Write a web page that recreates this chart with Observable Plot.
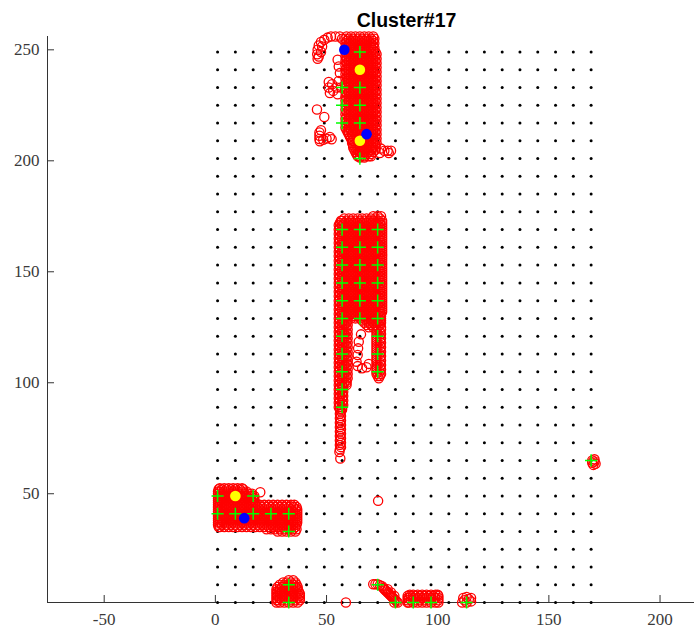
<!DOCTYPE html>
<html>
<head>
<meta charset="utf-8">
<script src="https://cdn.jsdelivr.net/npm/d3@7"></script>
<script src="https://cdn.jsdelivr.net/npm/@observablehq/plot@0.6"></script>
<style>
  html, body { margin: 0; padding: 0; background: #fff; }
  #chart svg { display: block; }
</style>
</head>
<body>
<div id="chart"></div>
<script>
// Axis limits (axis equal) and ticks
const xLim = [-75.5, 215.5];
const yLim = [1, 256];
const xTicks = [-50, 0, 50, 100, 150, 200];
const yTicks = [50, 100, 150, 200, 250];
const title = "Cluster#17";

// Sampling grid (black dots)
const gridX = [1, 9, 17, 25, 33, 41, 49, 57, 65, 73, 81, 89, 97, 105, 113, 121, 129, 137, 145, 153, 161, 169];
const gridY = [1, 9, 17, 25, 33, 41, 49, 57, 65, 73, 81, 89, 97, 105, 113, 121, 129, 137, 145, 153,
               161, 169, 177, 185, 193, 201, 209, 217, 225, 233, 241, 249];

// Cluster member positions, one row per line: "y: x x x ..."
const redRows = `
256: 59 61 63 65 67 69 71
255: 58.5 60 62 64 66 68 70 71.5
254: 59 61 63 65 67 69 71
253: 58.5 60 62 64 66 68 70 71.5
252: 59 61 63 65 67 69 71
251: 58.5 60 62 64 66 68 70 71.5
250: 59 61 63 65 67 69 71
249: 58.5 60 62 64 66 68 70 72
248: 59 61 63 65 67 69 71 72.5
247: 58.5 60 62 64 66 68 70 72
246: 59 61 63 65 67 69 71 72.5
245: 58.5 60 62 64 66 68 70 72
244: 59 61 63 65 67 69 71 72.5
243: 58.5 60 62 64 66 68 70 72
242: 59 61 63 65 67 69 71 72.5
241: 58.5 60 62 64 66 68 70 72
240: 59 61 63 65 67 69 71 72.5
239: 58.5 60 62 64 66 68 70 72
238: 59 61 63 65 67 69 71 72.5
237: 58.5 60 62 64 66 68 70 72
236: 59 61 63 65 67 69 71 72.5
235: 58.5 60 62 64 66 68 70 72
234: 59 61 63 65 67 69 71 72.5
233: 58.5 60 62 64 66 68 70 72
232: 59 61 63 65 67 69 71 72.5
231: 58.5 60 62 64 66 68 70 72
230: 59 61 63 65 67 69 71 72.5
229: 58.5 60 62 64 66 68 70 72
228: 59 61 63 65 67 69 71 72.5
227: 58.5 60 62 64 66 68 70 72
226: 59 61 63 65 67 69 71 72.5
225: 58.5 60 62 64 66 68 70 72
224: 59 61 63 65 67 69 71 72.5
223: 58.5 60 62 64 66 68 70 72
222: 59 61 63 65 67 69 71 72.5
221: 58.5 60 62 64 66 68 70 72
220: 59 61 63 65 67 69 71 72.5
219: 58.5 60 62 64 66 68 70 72
218: 59 61 63 65 67 69 71 72.5
217: 58.5 60 62 64 66 68 70 72
216: 59 61 63 65 67 69 71 72.5
215: 58.5 60 62 64 66 68 70 72
214: 59 61 63 65 67 69 71 72.5
213: 59.5 60 62 64 66 68 70 72
212: 60 61.5 63 65 67 69 71 72.5
211: 60.5 62 64 66 68 70 72
210: 61 63 65 67 69 71 72.5
209: 61.5 62 64 66 68 70 72
208: 61.5 63 65 67 69 71 72.5
207: 62 64 66 68 70 72
206: 62 63 65 67 69 71 72
205: 62.5 64 66 68 70 72
204: 63 65 67 69 71
203: 63.5 64 66 68 70
202: 64 65 67 69 70
201.5: 65 67
175: 71 73 74.5
174: 58 60 62 64 66 68 70 72 74
173: 56.5 57 59 61 63 65 67 69 71 73 75
172: 56 58 60 62 64 66 68 70 72 74 75
171: 55.5 57 59 61 63 65 67 69 71 73 75
170: 56 58 60 62 64 66 68 70 72 74 75
169: 55.5 57 59 61 63 65 67 69 71 73 75
168: 56 58 60 62 64 66 68 70 72 74 75
167: 55.5 57 59 61 63 65 67 69 71 73 75
166: 56 58 60 62 64 66 68 70 72 74 75
165: 55.5 57 59 61 63 65 67 69 71 73 75
164: 56 58 60 62 64 66 68 70 72 74 75
163: 55.5 57 59 61 63 65 67 69 71 73 75
162: 56 58 60 62 64 66 68 70 72 74 75
161: 55.5 57 59 61 63 65 67 69 71 73 75
160: 56 58 60 62 64 66 68 70 72 74 75
159: 55.5 57 59 61 63 65 67 69 71 73 75
158: 56 58 60 62 64 66 68 70 72 74 75
157: 55.5 57 59 61 63 65 67 69 71 73 75
156: 56 58 60 62 64 66 68 70 72 74 75
155: 55.5 57 59 61 63 65 67 69 71 73 75
154: 56 58 60 62 64 66 68 70 72 74 75
153: 55.5 57 59 61 63 65 67 69 71 73 75
152: 56 58 60 62 64 66 68 70 72 74 75
151: 55.5 57 59 61 63 65 67 69 71 73 75
150: 56 58 60 62 64 66 68 70 72 74 75
149: 55.5 57 59 61 63 65 67 69 71 73 75
148: 56 58 60 62 64 66 68 70 72 74 75
147: 55.5 57 59 61 63 65 67 69 71 73 75
146: 56 58 60 62 64 66 68 70 72 74 75
145: 55.5 57 59 61 63 65 67 69 71 73 75
144: 56 58 60 62 64 66 68 70 72 74 75
143: 55.5 57 59 61 63 65 67 69 71 73 75
142: 56 58 60 62 64 66 68 70 72 74 75
141: 55.5 57 59 61 63 65 67 69 71 73 75
140: 56 58 60 62 64 66 68 70 72 74 75
139: 55.5 57 59 61 63 65 67 69 71 73 75
138: 56 58 60 62 64 66 68 70 72 74 75
137: 55.5 57 59 61 63 65 67 69 71 73 75
136: 56 58 60 62 64 66 68 70 72 74 75
135: 55.5 57 59 61 63 65 67 69 71 73 75
134: 56 58 60 62 64 66 68 70 72 74 75
133: 55.5 57 59 61 63 65 67 69 71 73 75
132: 56 58 60 62 64 66 68 70 72 74 75
131: 55.5 57 59 61 63 65 67 69 71 73 74.5
130: 56 58 60 62 64 66 68 70 72 74 74.5
129: 55.5 57 59 61 63 65 67 69 71 73 74.5
128: 56 58 59.5 66 68 70 72 74 74.5
127: 55.5 57 59 67 69 71 73 74.5
126: 56 58 59.5 68 70 72 74
125: 55.5 57 59 69 71 73 74.5
124: 56 58 59.5 72.5 74.5
123: 55.5 57 59 72.5 74
122: 56 58 59.5 72.5 74.5
121: 55.5 57 59 72.5 74
120: 56 58 59.5 72.5 74.5
119: 55.5 57 59 72.5 74
118: 56 58 59.5 72.5 74.5
117: 55.5 57 59 72.5 74
116: 56 58 59.5 72.5 74.5
115: 55.5 57 59 72.5 74
114: 56 58 59.5 72.5 74.5
113: 55.5 57 59 72.5 74
112: 56 58 59.5 72.5 74.5
111: 55.5 57 59 72.5 74
110: 56 58 59.5 72.5 74.5
109: 55.5 57 59 72.5 74
108: 56 58 59.5 72.5 74.5
107: 55.5 57 59 72.5 74
106: 56 58 59.5 72.5 74.5
105: 55.5 57 59 72.5 74
104: 56 58 59.5 72.5 74.5
103: 55.5 57 59 73 74
102: 56 58 59.5 73.5
101: 55.5 57 59
100: 56 58 59
99: 55.5 57 59
98: 56 57.5
97: 55.5 57
96: 56 57.5
95: 55.5 57
94: 56 57.5
93: 55.5 57
92: 56 57.5
91: 55.5 57
90: 56 57.5
89: 55.5 57
88: 56 57
87: 56.5
86: 56
85: 56.5
84: 56
83: 56.5
82: 56
81: 56.5
80: 56
79: 56.5
78: 56
77: 56.5
76: 56
75: 56.5
74: 56
73: 56.5
72: 56
71: 56.5
70: 56
52.5: 2 4 6 8 10 12
52: 1.5 3 5 7 9 11 12.5
51: 1.2 2 4 6 8 10 12 14
50: 1.2 3 5 7 9 11 13 15 16.5
49: 1.2 2 4 6 8 10 12 14 16 17.5
48: 1.2 3 5 7 9 11 13 15 17 17.5
47: 1.2 2 4 6 8 10 12 14 16 17.5
46: 1.2 3 5 7 9 11 13 15 17 18
45: 1.2 2 4 6 8 10 12 14 16 18 20 22 24 26 28 30 32 34 35.5
44: 1.2 3 5 7 9 11 13 15 17 19 21 23 25 27 29 31 33 35 36.5
43: 1.2 2 4 6 8 10 12 14 16 18 20 22 24 26 28 30 32 34 36 36.8
42: 1.2 3 5 7 9 11 13 15 17 19 21 23 25 27 29 31 33 35 36.8
41: 1.2 2 4 6 8 10 12 14 16 18 20 22 24 26 28 30 32 34 36 36.8
40: 1.2 3 5 7 9 11 13 15 17 19 21 23 25 27 29 31 33 35 36.8
39: 1.2 2 4 6 8 10 12 14 16 18 20 22 24 26 28 30 32 34 36 36.8
38: 1.2 3 5 7 9 11 13 15 17 19 21 23 25 27 29 31 33 35 36.8
37: 1.2 2 4 6 8 10 12 14 16 18 20 22 24 26 28 30 32 34 36 36.8
36: 1.2 3 5 7 9 11 13 15 17 19 21 23 25 27 29 31 33 35 36.5
35: 1.5 2 4 6 8 10 12 14 16 18 20 22 24 26 28 30 32 34 36
34: 23 25 27 29 31 33 35 36.5
33: 28 30 32 34 36
11: 33 35
10: 30.5 32 34 36
9: 29 31 33 35 36.5
8: 28 30 32 34 36 37
7: 27.5 29 31 33 35 37
6: 27.5 28 30 32 34 36 37.5
5: 27.5 29 31 33 35 37 38
4: 27.5 28 30 32 34 36 38
3: 27.5 29 31 33 35 37 38
2: 27.5 28 30 32 34 36 38
1: 27.5 29 31 33 35 37
4.5: 87.5 89 91 93 95 97 99 100
4: 86.5 88 90 92 94 96 98 100.3
3: 86.5 87 89 91 93 95 97 99 100.3
2: 86.5 88 90 92 94 96 98 100.3
1: 86.5 87 89 91 93 95 97 99 100.3
`;

// Isolated and edge members: [x, y]
const redPoints = [
  // hook left of the upper block
  [46, 246], [45.8, 248], [46, 250], [46.5, 252], [47.5, 253.5], [49, 254.5], [50.5, 255.5],
  [52, 256], [54, 256], [56, 256], [57, 255], [47.5, 249], [48, 251.5], [46.5, 247],
  [55, 245.5], [55.5, 242.5], [56, 239.5],
  [51, 235.5], [51, 233], [51.5, 230.5], [52.5, 234.5], [53, 231.5], [54.5, 233], [55, 230],
  [55.5, 236], [56.5, 233],
  [45.7, 223.1], [49, 219.7],
  [46.8, 212.8], [46.8, 211.3], [46.8, 209.8], [47, 208.8], [48.5, 209.5], [50, 210],
  [51.5, 210.7], [52.3, 209.7], [47.5, 213.8],
  [74.5, 205.5], [76, 204.5], [77.5, 204.5], [79, 204.5], [78, 203.5], [74, 203.5],
  // inside the notch of the middle block
  [65.5, 121.8], [64.5, 118.5], [64.2, 115.5], [64, 112.5], [63.5, 109.5], [64, 107.5],
  [66, 106.5], [68, 107], [69, 108.5],
  [55.8, 68.8], [56.2, 65.9],
  // scattered
  [20.2, 50.7], [73.2, 46.8], [58.7, 1],
  // diagonal streak
  [71, 9.2], [72, 9.2], [73, 9.2], [74, 8.8], [75, 8.3], [75.5, 7.5], [76, 7], [76.5, 6.5],
  [77, 6], [77.5, 5.5], [78, 5], [78.5, 4.5], [79, 4], [79.5, 3.5], [80, 3], [80.5, 2.5],
  [81, 2], [81.5, 1.5], [82, 1], [80.5, 1], [77.5, 7], [79, 5.5], [80.5, 4],
  // small bottom block near x = 113
  [111, 1], [111.5, 3], [113, 3.5], [115, 3], [115, 1.5], [113, 1], [112, 2], [114, 2.5],
  // far right
  [169.5, 65], [170.5, 64.5], [171, 63.5], [170, 63], [169.5, 64], [170.5, 65.5]
];

// Grid nodes that fall inside the cluster (green +)
const plusX = [65, 57, 65, 57, 65, 57, 65, 65,
               57, 65, 73, 57, 65, 73, 57, 65, 73, 57, 65, 73, 57, 65, 73, 57, 65, 73,
               57, 73, 57, 73, 57, 73, 57, 57,
               1, 17, 1, 9, 17, 25, 33, 33,
               33, 33, 73, 81, 89, 97, 113, 169];
const plusY = [249, 233, 233, 225, 225, 217, 217, 201,
               169, 169, 169, 161, 161, 161, 153, 153, 153, 145, 145, 145, 137, 137, 137, 129, 129, 129,
               121, 121, 113, 113, 105, 105, 97, 89,
               49, 49, 41, 41, 41, 41, 41, 33,
               9, 1, 9, 1, 1, 1, 1, 65];

// Yellow and blue reference points
const yellowX = [65, 65, 9];
const yellowY = [241, 209, 49];
const blueX = [58, 68, 13];
const blueY = [250, 212, 39];

const gridDots = d3.cross(gridX, gridY, (x, y) => ({x, y}));
const red = redRows.trim().split("\n").flatMap(line => {
  const [y, xs] = line.split(":");
  return xs.trim().split(/\s+/).map(x => ({x: +x, y: +y}));
}).concat(redPoints.map(([x, y]) => ({x, y})));
const plus = plusX.map((x, i) => ({x, y: plusY[i]}));
const yellow = yellowX.map((x, i) => ({x, y: yellowY[i]}));
const blue = blueX.map((x, i) => ({x, y: blueY[i]}));

// Layout
const W = 694, H = 629;
const margin = {left: 47, right: 0, top: 36, bottom: 27};
const axisColor = "#333";
const tickLength = 7; // px, drawn inward
const tickDX = tickLength * (xLim[1] - xLim[0]) / (W - margin.left - margin.right);
const tickDY = tickLength * (yLim[1] - yLim[0]) / (H - margin.top - margin.bottom);

const chart = Plot.plot({
  width: W,
  height: H,
  marginLeft: margin.left,
  marginRight: margin.right,
  marginTop: margin.top,
  marginBottom: margin.bottom,
  x: {domain: xLim, label: null},
  y: {domain: yLim, label: null},
  style: {
    fontFamily: "'Liberation Serif', 'DejaVu Serif', serif",
    fontSize: "17px",
    color: "#3a3a3a",
    background: "white",
    overflow: "visible"
  },
  marks: [
    Plot.ruleX([xLim[0]], {stroke: axisColor}),
    Plot.ruleY([yLim[0]], {stroke: axisColor}),
    Plot.ruleX(xTicks, {x: d => d, y1: yLim[0], y2: yLim[0] + tickDY, stroke: axisColor}),
    Plot.ruleY(yTicks, {y: d => d, x1: xLim[0], x2: xLim[0] + tickDX, stroke: axisColor}),
    Plot.axisX(xTicks, {tickSize: 0, tickPadding: 10.6, tickFormat: d => String(d), label: null}),
    Plot.axisY(yTicks, {tickSize: 0, tickPadding: 8, tickFormat: d => String(d), label: null}),
    Plot.dot(gridDots, {x: "x", y: "y", r: 1.5, fill: "black"}),
    Plot.dot(red, {x: "x", y: "y", r: 4.6, stroke: "#ff0000", fill: "none", strokeWidth: 1.3}),
    Plot.dot(plus, {x: "x", y: "y", symbol: "plus", r: 4, stroke: "#00ff00", strokeWidth: 1.5}),
    Plot.dot(yellow, {x: "x", y: "y", r: 5.3, fill: "#ffff00"}),
    Plot.dot(blue, {x: "x", y: "y", r: 5.3, fill: "#0000ff"}),
    Plot.text([title], {
      text: d => d,
      frameAnchor: "top",
      dx: 35.5,
      dy: -23.4,
      fontFamily: "'Liberation Sans', Arial, sans-serif",
      fontWeight: "bold",
      fontSize: 19.5,
      fill: "black"
    })
  ]
});

document.getElementById("chart").appendChild(chart);
</script>
</body>
</html>
